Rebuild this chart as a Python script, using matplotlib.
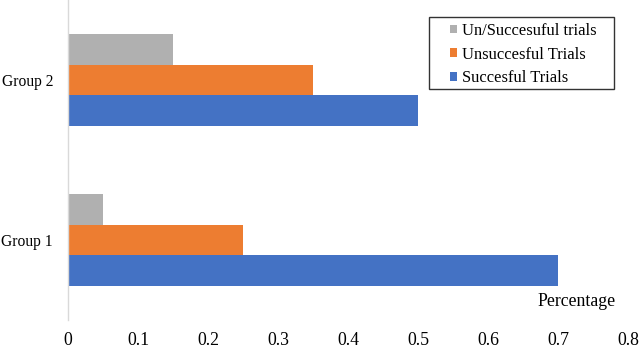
import matplotlib
matplotlib.use("Agg")
import matplotlib.pyplot as plt
from matplotlib.patches import Rectangle
import numpy as np

groups = ["Group 1", "Group 2"]
series_names = ["Succesful Trials", "Unsuccesful Trials", "Un/Succesuful trials"]
succesful = [0.70, 0.50]
unsuccesful = [0.25, 0.35]
un_succesful = [0.05, 0.15]
x_ticks = [0, 0.1, 0.2, 0.3, 0.4, 0.5, 0.6, 0.7, 0.8]
x_tick_labels = ["0", "0.1", "0.2", "0.3", "0.4", "0.5", "0.6", "0.7", "0.8"]

colors = ["#4472C4", "#ED7D31", "#B0B0B0"]

plt.rcParams['font.family'] = ['Liberation Serif', 'DejaVu Serif']

W, H = 640, 349
fig = plt.figure(figsize=(6.4, 3.49), dpi=100)
ax = fig.add_axes([68/W, 1 - 320/H, 560/W, 320/H])

y = np.arange(len(groups))
h = 0.192
handles = []
for i, (vals, name, c) in enumerate(zip([succesful, unsuccesful, un_succesful], series_names, colors)):
    b = ax.barh(y + (i - 1) * h, vals, height=h, color=c, label=name)
    handles.append(b)

ax.set_xlim(0, 0.8)
ax.set_ylim(-0.5, 1.5)
ax.set_yticks(y)
ax.set_yticklabels(groups, fontsize=11.2)
ax.set_xticks(x_ticks)
ax.set_xticklabels(x_tick_labels, fontsize=12.8)
ax.tick_params(axis='both', length=0)
ax.tick_params(axis='x', pad=8.8)
ax.tick_params(axis='y', pad=10.8)
for s in ['top', 'right', 'bottom']:
    ax.spines[s].set_visible(False)
ax.spines['left'].set_color('#d9d9d9')
ax.spines['left'].set_linewidth(1.0)

ax.text(0.909, 0.059, "Percentage", transform=ax.transAxes, ha='center', va='center', fontsize=12.8)

# legend frame
fig.patches.append(Rectangle((429/W, 1 - 88.7/H), (614-429)/W, (88.7-17.3)/H,
                             transform=fig.transFigure, fill=False,
                             edgecolor='#333333', linewidth=1.0))
leg = fig.legend(handles[::-1], series_names[::-1], loc='upper left',
                 bbox_to_anchor=(450/W, 1 - 22.8/H), fontsize=11.9,
                 frameon=False, handlelength=0.43, handleheight=0.43,
                 handletextpad=0.3, borderpad=0, labelspacing=0.47,
                 borderaxespad=0)

fig.savefig("out.png", dpi=100)
